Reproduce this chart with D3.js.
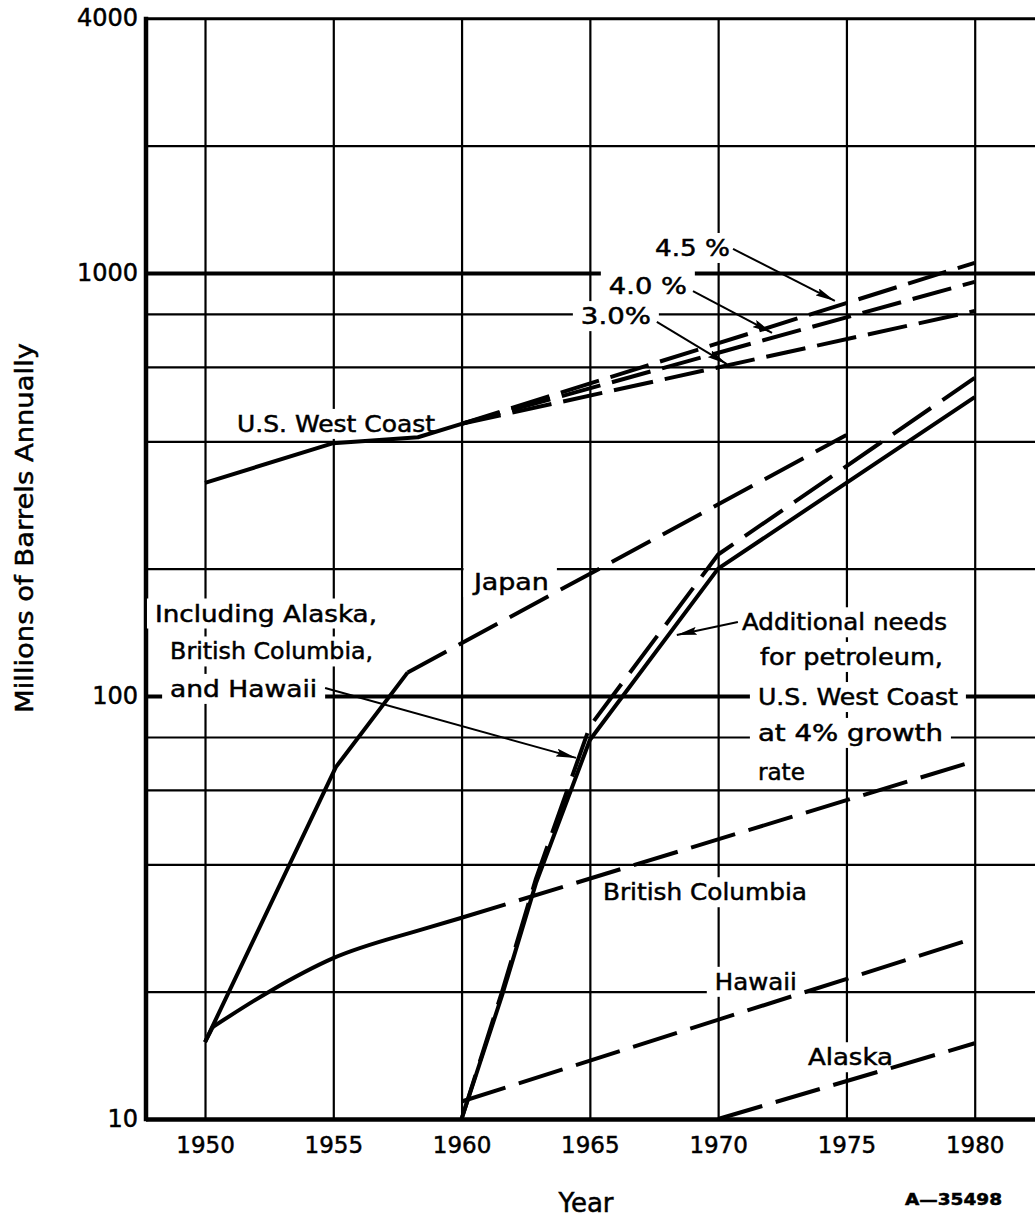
<!DOCTYPE html>
<html>
<head>
<meta charset="utf-8">
<script src="https://cdn.jsdelivr.net/npm/d3@7"></script>
<style>
  body { margin: 0; background: #fff; }
  text { font-family: "DejaVu Sans", sans-serif; fill: #000; stroke: #000; stroke-width: 0.5px; }
</style>
</head>
<body>
<svg id="chart" width="1035" height="1217"></svg>
<script>
// ---- tick values ----
const xTicks = [1950, 1955, 1960, 1965, 1970, 1975, 1980];
const yTickLabels = [10, 100, 1000, 4000];
const yGrid = [10, 20, 40, 60, 80, 100, 200, 400, 600, 800, 1000, 2000, 4000];

// ---- series: [year, millions of barrels per year] ----
const westCoast   = [[1950, 319], [1955, 396], [1958.3, 409], [1960, 440]];
const growth30    = [[1960, 440], [1980, 813]];
const growth40    = [[1960, 440], [1980, 953]];
const growth45    = [[1960, 440], [1980, 1057]];
const japanActual = [[1950, 15.2], [1955.1, 67.9], [1957.9, 113.7]];
const japanProj   = [[1957.9, 113.7], [1975, 414]];
const bcStart     = [[1950, 15.2], [1950.3, 16.5]];
const bcActual    = [[1950.3, 16.5], [1952.5, 20.0], [1955, 24.0], [1958.4, 28.0], [1960, 29.9]];
const bcProj      = [[1960, 29.9], [1980, 70.2]];
const hawaii      = [[1960, 11.0], [1979.6, 26.3]];
const alaska      = [[1970, 10], [1980, 15.1]];
const needsSolid  = [[1960, 10], [1961.6, 19.8], [1962.9, 36.1], [1965, 78.7], [1970, 200], [1980, 509]];
const needsDashed = [[1960, 10], [1961.6, 20.2], [1962.9, 37], [1965, 84.8], [1970, 216], [1980, 565]];

// ---- annotation text: [text, year, value] anchor = start of baseline ----
const labelText = [
  ["4.5 %", 1967.54, 1097], ["4.0 %", 1965.74, 892], ["3.0%", 1964.65, 757],
  ["U.S. West Coast", 1951.25, 421],
  ["Japan", 1960.48, 178],
  ["Including Alaska,", 1948.05, 150], ["British Columbia,", 1948.64, 122], ["and Hawaii", 1948.64, 99.5],
  ["Additional needs", 1970.93, 143], ["for petroleum,", 1971.63, 118.4], ["U.S. West Coast", 1971.55, 95.2],
  ["at 4% growth", 1971.55, 78.3], ["rate", 1971.55, 63.3],
  ["British Columbia", 1965.51, 32.9],
  ["Hawaii", 1969.87, 20.2],
  ["Alaska", 1973.5, 13.4]
];
const labelWidths = [75, 78, 70, 198, 75, 222, 203, 147, 205, 183, 200, 185, 47, 204, 82, 85];

// ---- leader arrows: [from year, from value, to year, to value] ----
const arrowPaths = [
  [1970.58, 1140, 1974.55, 859],
  [1969.02, 906, 1972.1, 722],
  [1967.61, 766, 1970.34, 609],
  [1954.68, 104.4, 1964.46, 71.4],
  [1970.77, 149.6, 1968.39, 139.4]
];

const W = 1035;
const svg = d3.select("#chart");
const x = d3.scaleLinear().domain([1947.7, 1982.35]).range([146, 1035]);
const y = d3.scaleLog().domain([10, 4000]).range([1119, 18.3]);
const plotH = y(10) - y(4000);

// vertical grid
const gx = svg.append("g").attr("transform", `translate(0,${y(10)})`)
  .call(d3.axisBottom(x).tickValues(xTicks).tickSize(-plotH).tickFormat(""));
gx.select(".domain").remove();
gx.selectAll("line").attr("stroke", "#000").attr("stroke-width", 2.2);

// horizontal grid
const gy = svg.append("g").attr("transform", `translate(${x(1947.7)},0)`)
  .call(d3.axisLeft(y).tickValues(yGrid).tickSize(-(W - x(1947.7) + 5)).tickFormat(""));
gy.select(".domain").remove();
gy.selectAll("line").attr("stroke", "#000")
  .attr("stroke-width", d => (d === 1000 || d === 100) ? 4 : (d === 4000 ? 3 : (d === 10 ? 4.5 : 2.2)));

// left frame
svg.append("line").attr("x1", x(1947.7)).attr("x2", x(1947.7))
  .attr("y1", y(4000) - 1.5).attr("y2", y(10) + 2.2)
  .attr("stroke", "#000").attr("stroke-width", 4.5);

// tick labels
const ax = svg.append("g").attr("transform", `translate(0,${y(10)})`)
  .call(d3.axisBottom(x).tickValues(xTicks).tickSize(0).tickFormat(d3.format("d")));
ax.select(".domain").remove();
ax.attr("font-size", null).attr("font-family", null);
ax.selectAll("text").attr("y", 34).attr("dy", 0).style("font-size", "23px");

const ay = svg.append("g").attr("transform", `translate(${x(1947.7)},0)`)
  .call(d3.axisLeft(y).tickValues(yTickLabels).tickSize(0).tickPadding(8).tickFormat(d3.format("d")));
ay.select(".domain").remove();
ay.attr("font-size", null).attr("font-family", null);
ay.selectAll("text").style("font-size", "24px");

// label knockouts sit between grid and data
const knock = svg.append("g");
const dataG = svg.append("g");
const arrowG = svg.append("g");
const textG = svg.append("g");

// data lines
const line = d3.line().x(d => x(d[0])).y(d => y(d[1]));
const smooth = d3.line().x(d => x(d[0])).y(d => y(d[1])).curve(d3.curveMonotoneX);
const series = [
  [westCoast, null, line], [growth30, "40,12", line], [growth40, "40,12", line], [growth45, "40,12", line],
  [japanActual, null, line], [japanProj, "44,14", line],
  [bcStart, null, line], [bcActual, null, smooth], [bcProj, "46,14", line],
  [hawaii, "46,14", line], [alaska, "46,14", line],
  [needsSolid, null, line], [needsDashed, "46,14", line]
];
dataG.selectAll("path").data(series).join("path")
  .attr("d", d => d[2](d[0]))
  .attr("fill", "none").attr("stroke", "#000").attr("stroke-width", 4)
  .attr("stroke-linejoin", "round")
  .attr("stroke-dasharray", d => d[1]);

// arrowheads
svg.append("defs").append("marker")
  .attr("id", "head").attr("viewBox", "0 0 20 8").attr("refX", 20).attr("refY", 4)
  .attr("markerWidth", 20).attr("markerHeight", 8).attr("markerUnits", "userSpaceOnUse")
  .attr("orient", "auto")
  .append("path").attr("d", "M0,0L20,4L0,8L3,4Z").attr("fill", "#000");

arrowG.selectAll("line").data(arrowPaths).join("line")
  .attr("x1", d => x(d[0])).attr("y1", d => y(d[1]))
  .attr("x2", d => x(d[2])).attr("y2", d => y(d[3]))
  .attr("stroke", "#000").attr("stroke-width", 2)
  .attr("marker-end", "url(#head)");

// annotation text
const texts = textG.selectAll("text").data(labelText).join("text")
  .attr("x", d => x(d[1])).attr("y", d => y(d[2]))
  .style("font-size", "23px")
  .attr("textLength", (d, i) => labelWidths[i]).attr("lengthAdjust", "spacingAndGlyphs")
  .text(d => d[0]);

texts.each(function () {
  const b = this.getBBox();
  knock.append("rect").attr("x", b.x - 8).attr("y", b.y - 2)
    .attr("width", b.width + 16).attr("height", b.height + 4).attr("fill", "#fff");
});

// axis titles
textG.append("text").attr("transform", "translate(33,528) rotate(-90)")
  .attr("text-anchor", "middle").style("font-size", "25px")
  .attr("textLength", 370).attr("lengthAdjust", "spacingAndGlyphs")
  .text("Millions of Barrels Annually");
textG.append("text").attr("x", 586).attr("y", 1212).attr("text-anchor", "middle")
  .style("font-size", "26px").text("Year");
textG.append("text").attr("x", 905).attr("y", 1205)
  .style("font-size", "16px").style("font-weight", "bold")
  .attr("textLength", 97).attr("lengthAdjust", "spacingAndGlyphs")
  .text("A—35498");
</script>
</body>
</html>
